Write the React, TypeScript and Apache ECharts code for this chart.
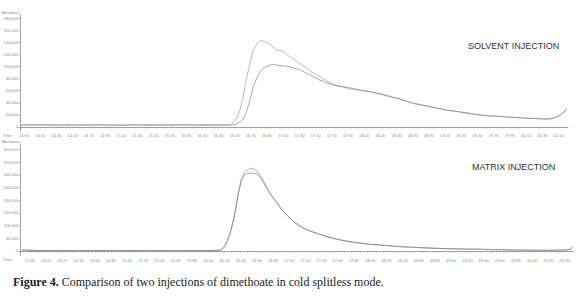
import React, { useEffect, useRef } from "react";
import * as echarts from "echarts";

// ---------- DATA ----------
// Top panel: solvent injection (two injections)
const topTimeA = [13.86,13.96,14.06,14.16,14.26,14.36,14.46,14.56,14.66,14.76,14.86,14.96,15.06,15.16,15.26,15.36,15.46,15.56,15.66,15.76,15.86,15.96,16.06,16.16,16.26,16.36,
  16.44,16.48,16.53,16.57,16.60,16.63,16.66,16.69,16.73,16.78,16.81,16.85,16.90,16.96,17.02,17.09,17.15,17.21,17.27,17.33,17.39,17.45,17.52,17.58,17.64,17.72,17.80,17.92,18.02,18.13,18.22,18.30,18.42,18.54,18.62,18.70,18.80,18.91,19.01,19.12,19.23,19.34,19.43,19.53,19.65,19.78,19.86,19.94,20.05,20.15,20.26,20.36,20.42,20.48,20.52,20.55,20.58,20.60];
const topValA = [2600,3400,3000,2700,3300,2900,2500,3100,3500,2800,2600,3200,2900,2400,3000,3300,2700,2500,3100,3600,2900,2700,3300,3000,2600,3100,
  3500,6200,15000,30000,46000,66700,88000,106200,127800,139000,143300,142800,140000,134500,127800,126200,119500,114500,108300,103000,97300,91500,86200,81000,76200,70300,67500,65500,62000,59000,56800,54000,50000,46500,43000,40000,36800,33500,30500,28000,25600,23500,21300,19800,18200,17000,16300,15800,15000,14200,13300,12600,13800,16500,19500,22500,26500,30500];
const topTimeB = [13.86,13.96,14.06,14.16,14.26,14.36,14.46,14.56,14.66,14.76,14.86,14.96,15.06,15.16,15.26,15.36,15.46,15.56,15.66,15.76,15.86,15.96,16.06,16.16,16.26,16.36,
  16.46,16.50,16.53,16.57,16.60,16.64,16.69,16.73,16.79,16.85,16.90,16.94,17.00,17.06,17.12,17.18,17.24,17.31,17.37,17.43,17.49,17.55,17.62,17.68,17.75,17.83,17.92,18.02,18.13,18.22,18.30,18.42,18.54,18.62,18.70,18.80,18.91,19.01,19.12,19.23,19.34,19.43,19.53,19.65,19.78,19.86,19.94,20.05,20.15,20.26,20.36,20.42,20.48,20.52,20.55,20.58,20.60];
const topValB = [3100,2800,3300,3600,2700,3000,3400,2800,2600,3200,3500,2700,2500,3100,3400,2800,3000,3300,2600,2900,3400,3100,2700,2900,3300,2800,
  2900,3800,5000,8000,11200,22000,44500,66700,86200,97300,100800,102800,103500,101700,101200,100000,97500,94500,90500,86200,82000,77800,74000,71200,68500,66500,63500,61500,59500,57000,55000,50500,46000,42500,39000,36200,33800,30800,27600,25800,23700,21800,19500,18000,17300,16200,15600,14700,14000,13500,12900,13600,16800,19200,22900,26000,30000];

// Bottom panel: matrix injection (two injections)
const botTimeA = [13.70,13.80,13.90,14.00,14.10,14.20,14.30,14.40,14.50,14.60,14.70,14.80,14.90,15.00,15.10,15.20,15.30,15.40,15.50,15.60,15.70,15.80,15.90,16.00,16.10,
  16.15,16.18,16.21,16.24,16.27,16.30,16.33,16.37,16.41,16.45,16.50,16.54,16.57,16.60,16.64,16.68,16.72,16.76,16.80,16.85,16.89,16.93,16.97,17.01,17.07,17.13,17.20,17.27,17.34,17.44,17.54,17.64,17.75,17.85,17.96,18.04,18.12,18.24,18.37,18.45,18.53,18.66,18.80,18.95,19.08,19.22,19.36,19.50,19.63,19.76,19.90,20.04,20.18,20.30,20.43,20.47,20.50];
const botValA = [3900,3200,1800,1200,1600,900,1400,1100,1700,1000,1300,1500,900,1200,1600,1100,800,1300,1500,1000,1200,1700,1400,1900,2600,
  3900,10000,23600,44000,70900,108000,149600,227200,286200,312200,321600,325600,322000,316000,297000,276700,251000,227200,209000,187800,170000,154700,141000,128700,112000,98400,86000,77000,69700,59000,50000,42800,36600,31500,27600,25300,23600,20000,17000,15800,14600,12500,10600,9000,8100,7400,6700,5600,4700,3900,3400,3000,2800,3200,3900,7000,14600];
const botTimeB = [13.70,13.80,13.90,14.00,14.10,14.20,14.30,14.40,14.50,14.60,14.70,14.80,14.90,15.00,15.10,15.20,15.30,15.40,15.50,15.60,15.70,15.80,15.90,16.00,16.10,
  16.15,16.18,16.21,16.24,16.27,16.30,16.33,16.37,16.41,16.45,16.49,16.52,16.56,16.60,16.64,16.68,16.72,16.76,16.80,16.85,16.89,16.93,16.97,17.01,17.07,17.13,17.20,17.27,17.34,17.44,17.54,17.64,17.75,17.85,17.96,18.04,18.12,18.24,18.37,18.45,18.53,18.66,18.80,18.95,19.08,19.22,19.36,19.50,19.63,19.76,19.90,20.04,20.18,20.30,20.43,20.47,20.50];
const botValB = [3500,2900,1500,1400,1000,1300,1600,900,1200,1500,1100,900,1400,1000,1300,1500,1200,1000,1400,1200,900,1500,1700,2100,2400,
  3500,9000,22000,42000,69000,106000,147000,222000,278000,300000,306000,306500,305000,304000,292000,270500,249000,229000,210500,190000,172000,156000,142000,129500,112500,98800,86500,77200,70000,59300,50200,43000,36800,31700,27800,25500,23800,20200,17200,15900,14700,12600,10700,9100,8200,7500,6800,5700,4800,4000,3500,3100,2900,3300,4000,7200,14800];

// Tick labels
const topXLabels = Array.from({ length: 34 }, (_, i) => +(13.9 + 0.2 * i).toFixed(2));
const botXLabels = Array.from({ length: 34 }, (_, i) => +(13.8 + 0.2 * i).toFixed(2));
const topYLabels = [0, 20000, 40000, 60000, 80000, 100000, 120000, 140000, 160000, 180000];
const botYLabels = [0, 50000, 100000, 150000, 200000, 250000, 300000, 350000, 400000];

const panelTitles = ["SOLVENT INJECTION", "MATRIX INJECTION"];
const captionBold = "Figure 4.";
const captionText = " Comparison of two injections of dimethoate in cold splitless mode.";

// ---------- helpers ----------
const minorTicks = (min: number, max: number, start: number, step: number) => {
  const out: number[] = [];
  let k = Math.ceil((min - start) / step);
  for (; start + k * step <= max; k++) out.push(+(start + k * step).toFixed(4));
  return out;
};
const pairs = (t: number[], v: number[]) => t.map((x, i) => [x, v[i]]);

const AXIS = "#8c8c8c";
const LBL = "#8a8a8a";

export default function App() {
  const ref = useRef<HTMLDivElement>(null);
  useEffect(() => {
    document.body.style.margin = "0";
    if (!ref.current) return;
    const chart = echarts.init(ref.current, undefined, { renderer: "svg" });

    const topMin = 13.9 - 4 / 81, topMax = 13.9 + 544 / 81;
    const botMin = 13.8 - 10 / 81, botMax = 13.8 + 543 / 81;

    const xAxisBase = (gridIndex: number, min: number, max: number, labels: number[], start: number) => ({
      type: "value",
      gridIndex,
      min,
      max,
      axisLine: { show: true, lineStyle: { color: AXIS, width: 0.8 } },
      axisTick: { show: true, length: 1.6, lineStyle: { color: AXIS, width: 0.5 }, customValues: minorTicks(min, max, start, 0.04) },
      axisLabel: { show: true, customValues: labels, fontSize: 4, color: LBL, margin: 2.5, fontFamily: "Liberation Sans", formatter: (v: number) => v.toFixed(2) },
      splitLine: { show: false },
    });
    const yAxisBase = (gridIndex: number, min: number, max: number, labels: number[]) => ({
      type: "value",
      gridIndex,
      min,
      max,
      axisLine: { show: true, lineStyle: { color: AXIS, width: 0.8 } },
      axisTick: { show: true, length: 2, lineStyle: { color: AXIS, width: 0.5 }, customValues: labels },
      axisLabel: { show: true, customValues: labels, fontSize: 4, color: LBL, margin: 2, fontFamily: "Liberation Sans" },
      splitLine: { show: false },
    });

    const lineSeries = (name: string, xi: number, data: number[][], color: string) => ({
      name,
      type: "line",
      xAxisIndex: xi,
      yAxisIndex: xi,
      data,
      showSymbol: false,
      symbol: "none",
      lineStyle: { color, width: 0.7 },
      emphasis: { disabled: true },
    });

    chart.setOption({
      animation: false,
      backgroundColor: "#ffffff",
      grid: [
        { left: 20, right: 12, top: 15, height: 116 },
        { left: 20, right: 7, top: 144, height: 111.7 },
      ],
      xAxis: [
        xAxisBase(0, topMin, topMax, topXLabels, 13.9),
        xAxisBase(1, botMin, botMax, botXLabels, 13.8),
      ],
      yAxis: [
        yAxisBase(0, -7000, 186000, topYLabels),
        yAxisBase(1, -18500, 421000, botYLabels),
      ],
      series: [
        lineSeries("Solvent injection 1", 0, pairs(topTimeA, topValA), "#a0a0a0"),
        lineSeries("Solvent injection 2", 0, pairs(topTimeB, topValB), "#848484"),
        lineSeries("Matrix injection 1", 1, pairs(botTimeA, botValA), "#959595"),
        lineSeries("Matrix injection 2", 1, pairs(botTimeB, botValB), "#7c7c7c"),
      ],
      graphic: [
        { type: "text", left: 468, top: 41, style: { text: panelTitles[0], fontSize: 9, fontFamily: "Liberation Sans", fill: "#333" } },
        { type: "text", left: 472, top: 162, style: { text: panelTitles[1], fontSize: 9, fontFamily: "Liberation Sans", fill: "#333" } },
        { type: "text", left: 2, top: 11, style: { text: "Abundance", fontSize: 3.5, fontFamily: "Liberation Sans", fill: LBL } },
        { type: "text", left: 2, top: 140, style: { text: "Abundance", fontSize: 3.5, fontFamily: "Liberation Sans", fill: LBL } },
        { type: "text", left: 3, top: 133, style: { text: "Time", fontSize: 4, fontFamily: "Liberation Sans", fill: LBL } },
        { type: "text", left: 3, top: 257, style: { text: "Time", fontSize: 4, fontFamily: "Liberation Sans", fill: LBL } },
        {
          type: "text",
          left: 13,
          top: 276,
          style: {
            text: "{b|" + captionBold + "}" + captionText,
            fontSize: 12,
            fontFamily: "Liberation Serif",
            fill: "#222",
            rich: { b: { fontWeight: "bold", fontSize: 12, fontFamily: "Liberation Serif", fill: "#222" } },
          },
        },
      ],
    });
    return () => chart.dispose();
  }, []);
  return <div ref={ref} style={{ width: 580, height: 303 }} />;
}
